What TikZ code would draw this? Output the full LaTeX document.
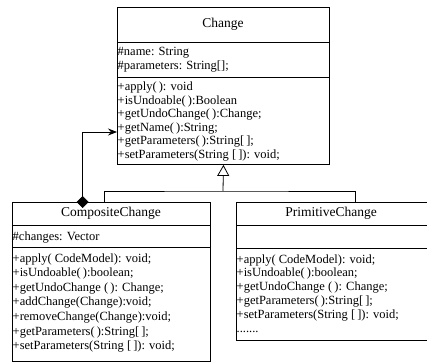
\documentclass[tikz,border=0pt]{standalone}
\usepackage{fontspec}
\setmainfont{Liberation Serif}
\usetikzlibrary{arrows.meta}
\begin{document}
\begin{tikzpicture}[x=1pt,y=-1pt,
  cls/.style={draw, line width=0.9pt, rectangle, inner sep=0pt, anchor=north west},
  sep/.style={line width=0.9pt},
  txt/.style={anchor=base west, inner sep=0pt, font=\fontsize{12.5}{14}\selectfont},
  ttl/.style={inner sep=0pt, font=\fontsize{13.5}{15}\selectfont},
  conn/.style={line width=0.8pt}]
\useasboundingbox (0,0) rectangle (427,363);
% Change
\node[cls, minimum width=212pt, minimum height=157pt] (change) at (117,7) {};
\draw[sep] (117,42) -- (329,42);
\draw[sep] (117,77) -- (329,77);
\node[ttl] (changeT) at (223,24.5) {Change};
\node[txt] (changeA1) at (117.5,56) {\#name: String};
\node[txt] (changeA2) at (117.5,70) {\#parameters: String[];};
\foreach \t [count=\i from 0] in {{+apply(\,): void},{+isUndoable(\,):Boolean},{+getUndoChange(\,):Change;},{+getName(\,):String;},{+getParameters(\,):String[\,];},{+setParameters(String [\,]): void;}}
  \node[txt] (changeM\i) at (117.5,{90.5+13.6*\i}) {\t};
% CompositeChange
\node[cls, minimum width=198pt, minimum height=159pt] (comp) at (12,202) {};
\draw[sep] (12,225) -- (210,225);
\draw[sep] (12,247) -- (210,247);
\node[ttl] (compT) at (111,213.5) {CompositeChange};
\node[txt] (compA) at (12.5,240) {\#changes: Vector};
\foreach \t [count=\i from 0] in {{+apply( CodeModel): void;},{+isUndoable(\,):boolean;},{+getUndoChange (\,): Change;},{+addChange(Change):void;},{+removeChange(Change):void;},{+getParameters(\,):String[\,];},{+setParameters(String [\,]): void;}}
  \node[txt] (compM\i) at (12.5,{262+14.6*\i}) {\t};
% PrimitiveChange
\node[cls, minimum width=190.5pt, minimum height=138pt] (prim) at (236,202) {};
\draw[sep] (236,225) -- (426.5,225);
\draw[sep] (236,248) -- (426.5,248);
\node[ttl] (primT) at (331,213.5) {PrimitiveChange};
\foreach \t [count=\i from 0] in {{+apply( CodeModel): void;},{+isUndoable(\,):boolean;},{+getUndoChange (\,): Change;},{+getParameters(\,):String[\,];},{+setParameters(String [\,]): void;}}
  \node[txt] (primM\i) at (236.5,{263+13.8*\i}) {\t};
\node[txt] (primDots) at (236.5,{263+13.8*5}) {.......};
% inheritance
\coordinate (junc) at (223,191);
\coordinate (compIn) at (104.5,202);
\coordinate (primIn) at (355,202);
\draw[conn] (compIn) |- (junc) -| (primIn);
\draw[conn, {Triangle[open, length=11pt, width=12pt]}-] (change.south) -- (junc);
% composition
\coordinate (dia) at (82.7,208);
\draw[conn, {Diamond[length=12pt, width=12pt]}-{Stealth[length=9pt, width=7pt, inset=3pt]}] (dia) |- (change.west |- 0,132);
\end{tikzpicture}
\end{document}
